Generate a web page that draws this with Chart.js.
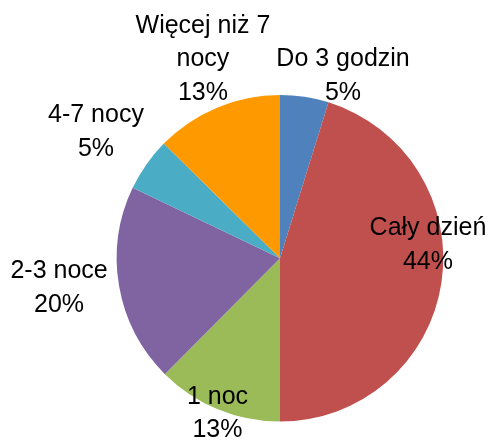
<!DOCTYPE html>
<html>
<head>
<meta charset="utf-8">
<style>
  html, body { margin: 0; padding: 0; background: #ffffff; }
  #wrap { width: 492px; height: 441px; }
</style>
<script src="https://cdn.jsdelivr.net/npm/chart.js@4.4.1/dist/chart.umd.min.js"></script>
</head>
<body>
<div id="wrap"><canvas id="c" width="492" height="441"></canvas></div>
<script>
// Categories (label lines) and series values
const categories = [
  ['Do 3 godzin'],
  ['Cały dzień'],
  ['1 noc'],
  ['2-3 noce'],
  ['4-7 nocy'],
  ['Więcej niż 7', 'nocy']
];
// Slice sizes measured from the slice boundaries (percent)
const values = [4.8, 45.2, 12.45, 19.65, 5.3, 12.6];
// Percentages as printed on the chart
const percentLabels = ['5%', '44%', '13%', '20%', '5%', '13%'];

const colors = ['#4F81BD', '#C0504D', '#9BBB59', '#8064A2', '#4BACC6', '#FF9900'];

// Label block centres, expressed relative to pie centre in units of radius
const labelOffsets = [
  [0.386, -1.115],
  [0.906, -0.080],
  [-0.383, 0.950],
  [-1.353, 0.184],
  [-1.127, -0.772],
  [-0.472, -1.219]
];

const labelPlugin = {
  id: 'pieLabels',
  afterDatasetsDraw(chart) {
    const meta = chart.getDatasetMeta(0);
    const ctx = chart.ctx;
    const arc0 = meta.data[0];
    const cx = arc0.x, cy = arc0.y, r = arc0.outerRadius;
    ctx.save();
    ctx.fillStyle = '#000000';
    ctx.font = '25px "Liberation Sans", Arial, sans-serif';
    ctx.textAlign = 'center';
    ctx.textBaseline = 'middle';
    const lh = 33.5;
    meta.data.forEach((arc, i) => {
      const lines = categories[i].concat([percentLabels[i]]);
      const bx = cx + labelOffsets[i][0] * r;
      const by = cy + labelOffsets[i][1] * r;
      const top = by - (lines.length - 1) * lh / 2;
      lines.forEach((t, j) => ctx.fillText(t, bx, top + j * lh));
    });
    ctx.restore();
  }
};

new Chart(document.getElementById('c'), {
  type: 'pie',
  data: {
    labels: categories.map(c => c.join(' ')),
    datasets: [{
      data: values,
      backgroundColor: colors,
      borderWidth: 0
    }]
  },
  options: {
    responsive: false,
    animation: false,
    layout: { padding: { top: 95, bottom: 19.4, left: 68, right: 0 } },
    plugins: {
      legend: { display: false },
      tooltip: { enabled: false }
    }
  },
  plugins: [labelPlugin]
});
</script>
</body>
</html>
